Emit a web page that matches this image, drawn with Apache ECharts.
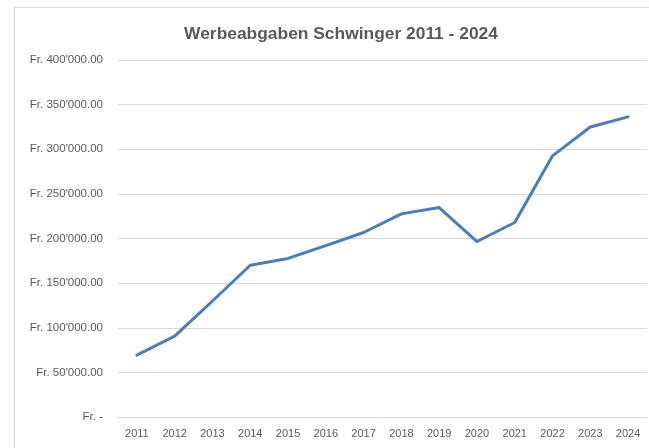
<!DOCTYPE html>
<html>
<head>
<meta charset="utf-8">
<script src="https://cdn.jsdelivr.net/npm/echarts@6/dist/echarts.min.js"></script>
<style>
html,body{margin:0;padding:0;background:#fff;}
#chart{width:649px;height:448px;}
</style>
</head>
<body>
<div id="chart"></div>
<script>
const titleText = "Werbeabgaben Schwinger 2011 - 2024";
const years = ["2011","2012","2013","2014","2015","2016","2017","2018","2019","2020","2021","2022","2023","2024"];
const werbeabgaben = [69300, 90600, 130000, 170000, 177700, 192000, 206700, 227600, 234700, 196600, 217900, 292600, 325000, 336300];
const yTickValues = [0, 50000, 100000, 150000, 200000, 250000, 300000, 350000, 400000];
const yTickLabels = ["Fr. -", "Fr. 50'000.00", "Fr. 100'000.00", "Fr. 150'000.00", "Fr. 200'000.00", "Fr. 250'000.00", "Fr. 300'000.00", "Fr. 350'000.00", "Fr. 400'000.00"];

const chart = echarts.init(document.getElementById('chart'), null, {renderer: 'canvas'});
const font = "'Liberation Sans', Arial, sans-serif";
chart.setOption({
  animation: false,
  backgroundColor: '#ffffff',
  title: {
    text: titleText,
    left: 336,
    top: 21,
    textAlign: 'center',
    textStyle: {fontFamily: font, fontSize: 17.4, fontWeight: 'bold', color: '#595959'}
  },
  graphic: [{
    type: 'rect',
    shape: {x: 14.5, y: 7.5, width: 800, height: 600},
    style: {fill: 'none', stroke: '#d9d9d9', lineWidth: 1},
    silent: true
  }],
  grid: {left: 118, right: 2, top: 60, bottom: 31, containLabel: false},
  xAxis: {
    type: 'category',
    data: years,
    boundaryGap: true,
    axisLine: {show: true, lineStyle: {color: '#d9d9d9', width: 1}},
    axisTick: {show: false},
    axisLabel: {color: '#595959', fontFamily: font, fontSize: 11, margin: 11}
  },
  yAxis: {
    type: 'value',
    min: 0,
    max: 400000,
    interval: 50000,
    axisLine: {show: false},
    axisTick: {show: false},
    splitLine: {show: true, lineStyle: {color: '#d9d9d9', width: 1}},
    axisLabel: {
      color: '#595959', fontFamily: font, fontSize: 11.5, margin: 15,
      formatter: function (v) {
        const i = yTickValues.indexOf(v);
        return i >= 0 ? yTickLabels[i] : '';
      }
    }
  },
  series: [{
    type: 'line',
    data: werbeabgaben,
    showSymbol: false,
    symbol: 'none',
    smooth: false,
    lineStyle: {color: '#4a7ebb', width: 3, cap: 'round', join: 'round'},
    itemStyle: {color: '#4a7ebb'}
  }]
});
</script>
</body>
</html>
